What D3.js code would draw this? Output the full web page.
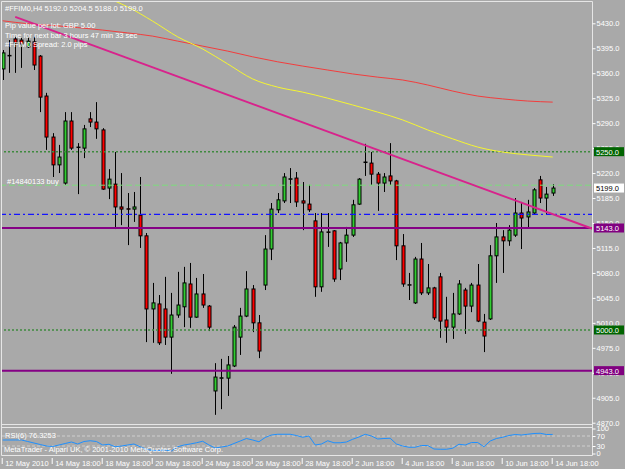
<!DOCTYPE html>
<html>
<head>
<meta charset="utf-8">
<title>FFIM0 H4</title>
<script src="https://d3js.org/d3.v7.min.js"></script>
<style>
body { margin:0; background:#a9a9a9; }
svg { display:block; }
text { font-family:"Liberation Sans", Arial, sans-serif; font-size:7.5px; fill:#fff; }
</style>
</head>
<body>
<svg width="625" height="469"></svg>
<script>
// H4 bars, 12 May 2010 .. 14 Jun 2010
const opens  = [5366,5385,5408,5406.5,5397,5404,5384,5328,5270.5,5231.5,5206,5293,5256.5,5255,5296,5291.5,5280.5,5199,5204.5,5172.5,
  5170,5169.5,5161,5132,5029.5,5036.5,5029.5,4990,5021,5032.5,5064.5,5018,5050.5,5033.5,4914.5,4932.5,4932.5,4949.5,4990,5019.5,
  5057.5,5010,5063,5113.5,5168.5,5181,5211.5,5213,5181,5176.5,5153,5060.5,5137.5,5139,5085.5,5122,5133,5176.5,5235.5,5234,
  5218.5,5206,5216,5209,5118,5063,5038,5099.5,5052,5059,5074.5,5014,5004,5022.5,5056,5033.5,5063,5011,5015.5,5104,
  5130.5,5125,5133,5164,5158.5,5164,5210.5,5185,5192];
const highs  = [5392.5,5406.5,5411,5409.5,5411,5411,5385.5,5332.5,5276,5259.5,5305.5,5305.5,5262,5287.5,5305.5,5319.5,5283,5225.5,5249.5,5220,
  5192,5193.5,5214.5,5136,5066,5049,5074.5,5052,5081.5,5088.5,5094,5073,5078.5,5035,4953.5,4959.5,4963.5,5007,5031,5082.5,
  5063,5021,5133,5178,5192,5220,5227,5221.5,5207.5,5203.5,5164,5164,5164,5140,5123.5,5144.5,5182.5,5213,5261,5249.5,
  5221.5,5220,5262,5210.5,5134.5,5080,5102.5,5122,5092.5,5060.5,5080,5046.5,5052,5070,5059,5066,5092.5,5022.5,5119,5150,
  5140,5147,5185,5179.5,5182.5,5199,5216,5200.5,5204.5];
const lows   = [5350.5,5360.5,5360.5,5367.5,5395.5,5364.5,5305.5,5252.5,5214.5,5220,5203.5,5252.5,5190.5,5241,5284.5,5268,5196.5,5183.5,5141.5,5147,
  5119,5151.5,5115,4983,4982,4979,4979,4938.5,5017,5004,5003,5017,5031,4998.5,4881,4889,4907.5,4948,4965,5018,
  4997,4960.5,5056,5098,5164,5178,5178,5172.5,5140,5165.5,5046.5,5053.5,5116.5,5067.5,5070,5095.5,5130.5,5175.5,5216,5203.5,
  5167,5193.5,5203.5,5098,5060.5,5042,5036.5,5049,5049,5014,4989,4982,4987.5,5021,4994.5,5025,5011,4969,5014,5066,
  5080,5118,5130.5,5113.5,5143,5162.5,5178,5162.5,5188];
const closes = [5388.5,5384.5,5402.5,5401,5405,5371.5,5326.5,5270.5,5231.5,5242.5,5293,5255,5256,5282,5291.5,5282,5197.5,5211.5,5172.5,5169.5,
  5169.5,5172.5,5132,5029.5,5038,4982,4990,5021,5035,5066,5018,5050.5,5035,5004,4934,4933,4951,5004,5019.5,5057.5,
  5010,4970.5,5113.5,5169.5,5182.5,5214.5,5212,5179.5,5178,5168.5,5060.5,5137.5,5137,5071.5,5122,5133,5175.5,5211.5,5235,5218.5,
  5206,5214.5,5209,5118,5064.5,5063.5,5099.5,5052,5059,5017,5012.5,5004,5022.5,5064.5,5033.5,5063,5012.5,4991.5,5104,5130.5,
  5125,5140,5164,5157,5165.5,5196.5,5185,5190.5,5199];

// moving averages, read every 4 bars
const slowIdx = [0,4,8,12,16,20,24,28,32,36,40,44,48,52,56,60,64,68,72,76,80,84,88];
const slowMA  = [5433.5,5429.5,5427,5424,5420.5,5416.5,5412,5405,5398,5391,5383,5376,5370,5364.5,5359,5354.5,5350.5,5343.5,5335,5328,5324,5321,5319.5];
const fastIdx = [18,20,24,28,32,36,40,44,48,52,56,60,64,68,72,76,80,84,88];
const fastMA  = [5461,5453,5433,5411,5394,5373,5352,5340.5,5333.5,5325,5315.5,5305.5,5294.5,5280.5,5268,5256.5,5249.5,5245.5,5242.5];

const rsi = [54,54,54,54,48,42,36,30,28,34,40,46,38,48,51,48,34,37,27,30,
  34,38,27,17,12,12,14,10,27,34,38,43,49,34,22,26,30,40,50,60,
  54,47,64,74,77,77,77,72,65,70,34,38,51,43,43,46,57,66,77,70,
  58,60,61,38,30,25,25,32,32,18,17,17,21,37,34,44,44,27,50,60,
  65,72,76,74,77,80,81,76,76.3];

// trend line anchors [bar, price]
const trendA = [2, 5439];
const trendB = [60, 5252.5];

const targetLevels = [5250, 5000];   // green dotted
const orderPrice = 5203;              // #14840133 buy
const bidPrice = 5199;
const blueLevel = 5162;
const purpleLevels = [5143, 4943];

const priceTicks = d3.range(4870, 5431, 35);
const timeTicks = [0,8,16,24,32,40,48,56,64,72,80,88];
const timeLabels = ['12 May 2010','14 May 18:00','18 May 18:00','20 May 18:00','24 May 18:00','26 May 18:00',
  '28 May 18:00','2 Jun 18:00','4 Jun 18:00','8 Jun 18:00','10 Jun 18:00','14 Jun 18:00'];

const svg = d3.select('svg');
const W = 592.5;

const x = d3.scaleLinear().domain([0, 88]).range([2.7, 552.7]);
const y = d3.scaleLinear().domain([4870, 5430]).range([422.7, 23.3]);
const ry = d3.scaleLinear().domain([0, 100]).range([453.5, 428.5]);

svg.append('rect').attr('width', 625).attr('height', 469).attr('fill', '#a9a9a9');

svg.append('defs').append('clipPath').attr('id', 'main')
  .append('rect').attr('x', 2).attr('y', 2).attr('width', W - 2).attr('height', 422);

const plot = svg.append('g').attr('clip-path', 'url(#main)');

// candles
const bars = d3.range(opens.length);
const c = plot.append('g').selectAll('g').data(bars).enter().append('g');
c.append('line')
  .attr('x1', i => Math.round(x(i)) + 0.5).attr('x2', i => Math.round(x(i)) + 0.5)
  .attr('y1', i => y(highs[i])).attr('y2', i => y(lows[i]))
  .attr('stroke', '#000').attr('stroke-width', 1);
c.append('rect')
  .attr('x', i => Math.round(x(i)) - 1)
  .attr('width', 3)
  .attr('y', i => y(Math.max(opens[i], closes[i])))
  .attr('height', i => Math.max(0.5, Math.abs(y(opens[i]) - y(closes[i]))))
  .attr('fill', i => closes[i] >= opens[i] ? '#32cd32' : '#ff0000')
  .attr('stroke', '#000').attr('stroke-width', 1);

// horizontal levels
function hline(p, color, width, dash) {
  plot.append('line').attr('x1', 0).attr('x2', W).attr('y1', y(p)).attr('y2', y(p))
    .attr('stroke', color).attr('stroke-width', width).attr('stroke-dasharray', dash);
}
targetLevels.forEach(p => hline(p, '#3f8a3f', 1.5, '2,2'));
hline(orderPrice, '#7ddc7d', 1, '6,3');
hline(blueLevel, '#1414ff', 1.3, '6,3,2,3');
purpleLevels.forEach(p => hline(p, '#850085', 2, null));

// moving averages
const line = d3.line().x(d => x(d[0])).y(d => y(d[1])).curve(d3.curveMonotoneX);
plot.append('path').datum(slowIdx.map((b, k) => [b, slowMA[k]]))
  .attr('d', line).attr('fill', 'none').attr('stroke', '#f23d3d').attr('stroke-width', 1);
plot.append('path').datum(fastIdx.map((b, k) => [b, fastMA[k]]))
  .attr('d', line).attr('fill', 'none').attr('stroke', '#f5f530').attr('stroke-width', 1);

// trend line (ray to the right)
const slope = (trendB[1] - trendA[1]) / (trendB[0] - trendA[0]);
const endBar = x.invert(W);
plot.append('line')
  .attr('x1', x(trendA[0])).attr('y1', y(trendA[1]))
  .attr('x2', x(endBar)).attr('y2', y(trendA[1] + slope * (endBar - trendA[0])))
  .attr('stroke', '#d8238c').attr('stroke-width', 2);

// frames
const frame = svg.append('g').attr('stroke', '#e6e6e6').attr('fill', 'none');
frame.append('path').attr('d', `M1.5,1.5H${W}V455.5H1.5Z`);
frame.append('line').attr('x1', 1.5).attr('x2', W).attr('y1', 424.5).attr('y2', 424.5);
frame.append('line').attr('x1', 1.5).attr('x2', W).attr('y1', 427.5).attr('y2', 427.5);

// price axis
const pa = svg.append('g').attr('transform', `translate(${W},0)`)
  .call(d3.axisRight(y).tickValues(priceTicks).tickFormat(d3.format('.1f')).tickSize(3).tickPadding(1));
pa.select('.domain').remove();
pa.selectAll('line').attr('stroke', '#fff');
pa.selectAll('text').attr('fill', '#fff').style('font-size', '7.5px').style('font-family', 'Liberation Sans');

// right-side price boxes
function tag(p, bg, fg) {
  const g = svg.append('g').attr('transform', `translate(594,${y(p)})`);
  g.append('rect').attr('x', 0).attr('y', -4.5).attr('width', 30).attr('height', 9).attr('fill', bg);
  g.append('text').attr('x', 2).attr('y', 3).style('fill', fg).text(d3.format('.1f')(p));
}
targetLevels.forEach(p => tag(p, '#006400', '#fff'));
tag(bidPrice, '#fff', '#000');
purpleLevels.forEach(p => tag(p, '#800080', '#fff'));

// RSI pane
const rp = svg.append('g');
[70, 30].forEach(v => rp.append('line').attr('x1', 2).attr('x2', W).attr('y1', ry(v)).attr('y2', ry(v))
  .attr('stroke', '#cfcfcf').attr('stroke-dasharray', '3,2'));
rp.append('path').datum(rsi)
  .attr('d', d3.line().x((d, i) => x(i)).y(d => ry(d)))
  .attr('fill', 'none').attr('stroke', '#1e90ff').attr('stroke-width', 1);
const ra = svg.append('g').attr('transform', `translate(${W},0)`)
  .call(d3.axisRight(ry).tickValues([0, 30, 70, 100]).tickSize(3).tickPadding(1));
ra.select('.domain').remove();
ra.selectAll('line').attr('stroke', '#fff');
ra.selectAll('text').attr('fill', '#fff').style('font-size', '7.5px').style('font-family', 'Liberation Sans');

// time axis
const ta = svg.append('g').attr('transform', 'translate(0,458)')
  .call(d3.axisBottom(x).tickValues(timeTicks).tickFormat((d, k) => timeLabels[k]).tickSize(6));
ta.select('.domain').remove();
ta.selectAll('line').attr('stroke', '#fff').attr('transform', 'translate(-1,0)');
ta.selectAll('text').attr('fill', '#fff').attr('y', 7.5).attr('dy', 0).attr('x', 2)
  .style('text-anchor', 'start').style('font-size', '7.5px').style('font-family', 'Liberation Sans');

// texts
const notes = [
  ['#FFIM0,H4  5192.0 5204.5 5188.0 5199.0', 5, 10.5],
  ['Pip value per lot: GBP 5.00', 5, 28],
  ['Time for next bar 3 hours 47 min 33 sec', 5, 37.5],
  ['#FFIM0 Spread:  2.0 pips', 5, 47],
  ['#14840133 buy', 7, 184],
  ['RSI(6) 76.3253', 5, 437.5],
  ['MetaTrader - Alpari UK, \u00a9 2001-2010 MetaQuotes Software Corp.', 4, 452]
];
svg.append('g').selectAll('text').data(notes).enter().append('text')
  .attr('x', d => d[1]).attr('y', d => d[2]).text(d => d[0]);
</script>
</body>
</html>
